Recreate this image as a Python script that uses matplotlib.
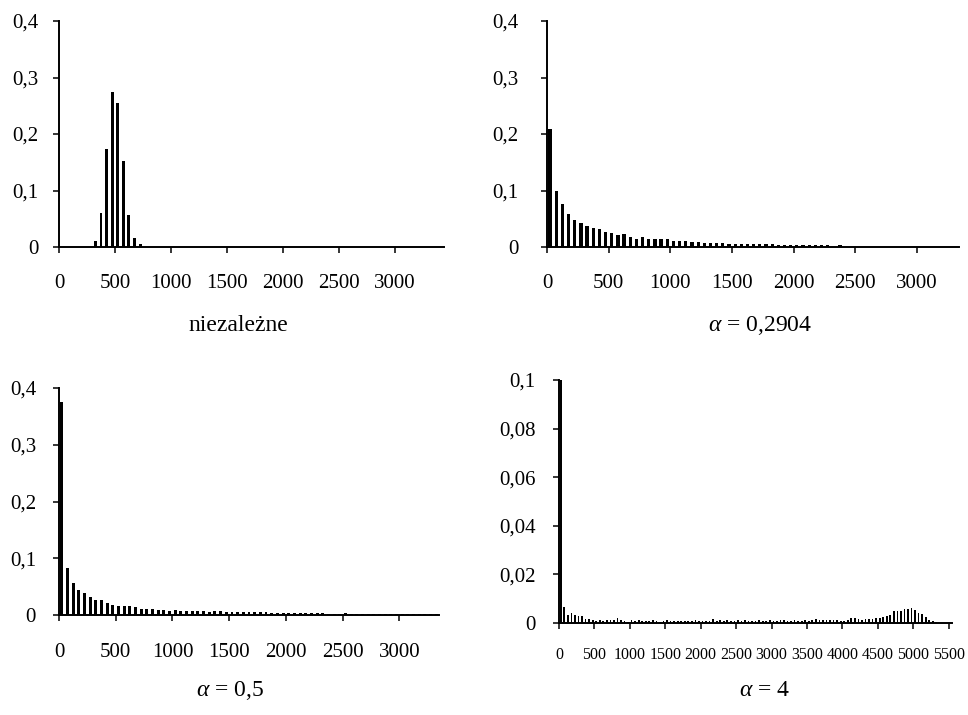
import matplotlib
matplotlib.use('Agg')
import matplotlib.pyplot as plt
import numpy as np

plt.rcParams['font.family'] = ['Liberation Serif', 'DejaVu Serif']
plt.rcParams['mathtext.fontset'] = 'custom'
plt.rcParams['mathtext.rm'] = 'Liberation Serif'
plt.rcParams['mathtext.it'] = 'Liberation Serif:italic'

# rozkłady - słupki co 50 (środki przedziałów)
niezalezne_start = 325
niezalezne = [0.011, 0.060, 0.173, 0.275, 0.254, 0.153, 0.056, 0.016, 0.005]

alfa_02904 = [0.208, 0.100, 0.076, 0.059, 0.048, 0.043, 0.038, 0.034, 0.031, 0.027,
              0.025, 0.021, 0.023, 0.017, 0.015, 0.017, 0.015, 0.015, 0.0135, 0.0135,
              0.010, 0.010, 0.010, 0.009, 0.008, 0.0075, 0.0065, 0.0065, 0.0065, 0.006,
              0.0055, 0.0055, 0.005, 0.005, 0.0048, 0.0045, 0.0045, 0.004, 0.004, 0.0038,
              0.0035, 0.0035, 0.0035, 0.0032, 0.0032, 0.003, 0.0, 0.003]

alfa_05 = [0.375, 0.083, 0.056, 0.044, 0.038, 0.032, 0.026, 0.026, 0.021, 0.017,
           0.016, 0.016, 0.016, 0.014, 0.0106, 0.0106, 0.0106, 0.0088, 0.0088, 0.007,
           0.0088, 0.007, 0.007, 0.007, 0.007, 0.007, 0.006, 0.007, 0.007, 0.006,
           0.006, 0.005, 0.005, 0.005, 0.005, 0.0045, 0.0045, 0.004, 0.004, 0.0038,
           0.0035, 0.0035, 0.0035, 0.0032, 0.003, 0.003, 0.003, 0.002, 0.002, 0.0018,
           0.0035, 0.0015, 0.0015, 0.0012, 0.0012, 0.0012, 0.001, 0.001, 0.001, 0.001,
           0.001, 0.001, 0.0009, 0.0009, 0.0009, 0.0009, 0.0009]

alfa_4 = [0.25, 0.0066, 0.0034, 0.0040, 0.0033, 0.0029, 0.0028, 0.0017, 0.0018, 0.0013,
          0.0009, 0.0013, 0.0010, 0.0012, 0.0014, 0.0014, 0.0019, 0.0011, 0.0010, 0.0006,
          0.0013, 0.0008, 0.0011, 0.0009, 0.0007, 0.0009, 0.0011, 0.0008, 0.0006, 0.0008,
          0.0011, 0.0008, 0.0009, 0.0007, 0.0008, 0.0007, 0.0009, 0.0010, 0.0011, 0.0008,
          0.0010, 0.0008, 0.0007, 0.0015, 0.0009, 0.0011, 0.0008, 0.0012, 0.0010, 0.0007,
          0.0011, 0.0009, 0.0012, 0.0010, 0.0008, 0.0009, 0.0011, 0.0008, 0.0010, 0.0012,
          0.0009, 0.0008, 0.0011, 0.0013, 0.0010, 0.0009, 0.0012, 0.0008, 0.0010, 0.0011,
          0.0009, 0.0012, 0.0015, 0.0012, 0.0011, 0.0013, 0.0012, 0.0014, 0.0011, 0.0009,
          0.0010, 0.0012, 0.0020, 0.0019, 0.0016, 0.0013, 0.0015, 0.0017, 0.0016, 0.0019,
          0.0019, 0.0023, 0.0030, 0.0034, 0.0051, 0.0048, 0.0051, 0.0059, 0.0059, 0.0062,
          0.0053, 0.0041, 0.0038, 0.0026, 0.0011, 0.0008, 0.0004]

ticks_x1 = [0, 500, 1000, 1500, 2000, 2500, 3000]
ticks_x4 = [0, 500, 1000, 1500, 2000, 2500, 3000, 3500, 4000, 4500, 5000, 5500]
ticks_y1 = [0, 0.1, 0.2, 0.3, 0.4]
labels_y1 = ['0', '0,1', '0,2', '0,3', '0,4']
ticks_y4 = [0, 0.02, 0.04, 0.06, 0.08, 0.1]
labels_y4 = ['0', '0,02', '0,04', '0,06', '0,08', '0,1']

W, H = 968, 715
fig = plt.figure(figsize=(W / 100, H / 100), dpi=100)


def osie(l, t, r, b):
    return fig.add_axes([l / W, 1 - b / H, (r - l) / W, (b - t) / H])


def styl(ax, xmax, xt, yt, yl, ymax, xsize=15, ypad=10, xpad=15):
    ax.set_xlim(0, xmax)
    ax.set_ylim(0, ymax)
    for s in ['top', 'right']:
        ax.spines[s].set_visible(False)
    for s in ['left', 'bottom']:
        ax.spines[s].set_linewidth(1.4)
    ax.set_xticks(xt)
    ax.set_xticklabels([str(v) for v in xt], fontsize=xsize)
    ax.set_yticks(yt)
    ax.set_yticklabels(yl, fontsize=15)
    ax.tick_params(axis='both', direction='out', length=4.5, width=1.1)
    ax.tick_params(axis='x', pad=xpad)
    ax.tick_params(axis='y', pad=ypad)


# niezależne
ax1 = osie(59, 21, 444, 247)
x1 = niezalezne_start + 50 * np.arange(len(niezalezne))
ax1.bar(x1, niezalezne, width=26, color='black')
styl(ax1, 3440, ticks_x1, ticks_y1, labels_y1, 0.4, ypad=10)

# alfa = 0,2904
ax2 = osie(547, 21, 959, 247)
x2 = 25 + 50 * np.arange(len(alfa_02904))
ax2.bar(x2, alfa_02904, width=26, color='black')
styl(ax2, 3340, ticks_x1, ticks_y1, labels_y1, 0.4, ypad=16)

# alfa = 0,5
ax3 = osie(59, 388, 439, 615)
x3 = 25 + 50 * np.arange(len(alfa_05))
ax3.bar(x3, alfa_05, width=26, color='black')
styl(ax3, 3350, ticks_x1, ticks_y1, labels_y1, 0.4, ypad=12, xpad=16)

# alfa = 4
ax4 = osie(559, 380, 952, 623)
x4 = 25 + 50 * np.arange(len(alfa_4))
ax4.bar(x4, alfa_4, width=24, color='black')
styl(ax4, 5546, ticks_x4, ticks_y4, labels_y4, 0.1, xsize=11.5, ypad=12.5, xpad=13)

# podpisy
fig.text(238 / W, 1 - 325 / H, 'niezależne', ha='center', va='center', fontsize=17)
fig.text(760 / W, 1 - 325 / H, r'$\alpha$ = 0,2904', ha='center', va='center', fontsize=17)
fig.text(230 / W, 1 - 690 / H, r'$\alpha$ = 0,5', ha='center', va='center', fontsize=17)
fig.text(765 / W, 1 - 690 / H, r'$\alpha$ = 4', ha='center', va='center', fontsize=17)

fig.savefig('out.png', dpi=100)
